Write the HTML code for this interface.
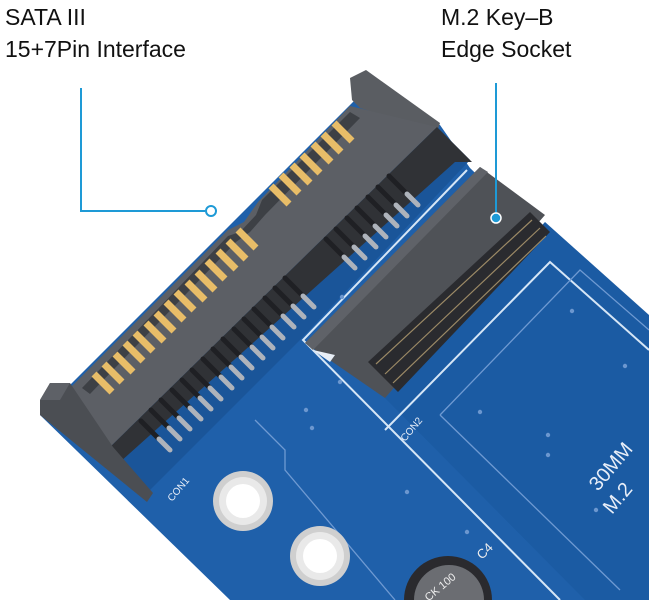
<!DOCTYPE html>
<html><head><meta charset="utf-8"><style>
html,body{margin:0;padding:0;background:#fff;width:649px;height:600px;overflow:hidden}
svg{display:block;overflow:hidden}
text{font-family:"Liberation Sans",sans-serif;fill:#111}
</style></head><body>
<svg width="649" height="600" viewBox="0 0 649 600" xmlns="http://www.w3.org/2000/svg">
<rect width="649" height="600" fill="#fff"/>
<!-- PCB -->
<polygon points="40,415 230,600 649,600 649,331 545,240 470,168 440,125 360,95" fill="#1f60aa"/>
<polygon points="385,398 545,222 649,315 649,600 585,600" fill="#1b5ba3"/>
<polygon points="110,455 440,130 470,160 300,340 150,490" fill="#1a5599"/>
<g stroke="#d6e6f6" stroke-width="2" fill="none">
<polyline points="467,170 303,340 560,600"/>
<polyline points="385,430 550,262 649,350"/>
</g>
<g stroke="#6f9ad2" stroke-width="1.3" fill="none">
<polyline points="255,420 285,450 285,470 395,600"/>
<polyline points="440,415 580,270 649,330"/>
<polyline points="440,415 620,590"/>
</g>
<!-- vias -->
<g fill="#6c97cf">
<circle cx="340" cy="382" r="2.2"/><circle cx="312" cy="428" r="2.2"/><circle cx="262" cy="481" r="2.2"/>
<circle cx="407" cy="492" r="2.2"/><circle cx="467" cy="532" r="2.2"/><circle cx="480" cy="412" r="2.2"/>
<circle cx="548" cy="455" r="2.2"/><circle cx="572" cy="311" r="2.2"/><circle cx="625" cy="366" r="2.2"/>
<circle cx="596" cy="510" r="2.2"/><circle cx="342" cy="297" r="2.2"/><circle cx="433" cy="276" r="2.2"/>
<circle cx="306" cy="410" r="2.2"/><circle cx="548" cy="435" r="2.2"/>
</g>
<!-- SATA top cap -->
<polygon points="350,78 366,70 440,123 437,132 360,108 352,100" fill="#5a5d62"/>
<!-- tongue & face -->
<polygon points="70,388 228,230 244,222 258,202 350,106 437,127 107,450 100,445" fill="#5c5f65"/>
<polygon points="82,388 228,236 240,232 256,215 262,200 350,112 360,118 265,215 250,232 236,242 90,394" fill="#3d4045"/>
<!-- shadow / dark strip -->
<polygon points="107,450 437,127 472,162 455,162 120,462" fill="#303236"/>
<!-- left cap -->
<polygon points="40,400 50,383 70,383 113,447 153,493 147,502 40,415" fill="#4b4e53"/>
<polygon points="40,400 50,383 70,383 60,400" fill="#5e6167"/>
<!-- gold pins -->
<g stroke="#e8bd68" stroke-width="7">
<line x1="94" y1="374" x2="112" y2="392"/><line x1="104" y1="364" x2="122" y2="382"/>
<line x1="115" y1="354" x2="133" y2="372"/><line x1="125" y1="343" x2="143" y2="361"/>
<line x1="135" y1="333" x2="153" y2="351"/><line x1="146" y1="323" x2="164" y2="341"/>
<line x1="156" y1="313" x2="174" y2="331"/><line x1="166" y1="302" x2="184" y2="320"/>
<line x1="176" y1="292" x2="194" y2="310"/><line x1="187" y1="282" x2="205" y2="300"/>
<line x1="197" y1="272" x2="215" y2="290"/><line x1="207" y1="261" x2="225" y2="279"/>
<line x1="218" y1="251" x2="236" y2="269"/><line x1="228" y1="241" x2="246" y2="259"/>
<line x1="238" y1="230" x2="256" y2="248"/>
<line x1="271" y1="186" x2="289" y2="204"/><line x1="281" y1="175" x2="299" y2="193"/>
<line x1="292" y1="165" x2="310" y2="183"/><line x1="302" y1="155" x2="320" y2="173"/>
<line x1="313" y1="144" x2="331" y2="162"/><line x1="323" y1="134" x2="341" y2="152"/>
<line x1="334" y1="123" x2="352" y2="141"/>
</g>
<!-- solder legs -->
<g stroke-width="5" stroke-linecap="round">
<g stroke="#1f2024">
<line x1="141" y1="421" x2="159" y2="439"/><line x1="151" y1="410" x2="169" y2="428"/>
<line x1="161" y1="400" x2="179" y2="418"/><line x1="172" y1="390" x2="190" y2="408"/>
<line x1="182" y1="380" x2="200" y2="398"/><line x1="192" y1="370" x2="210" y2="388"/>
<line x1="203" y1="359" x2="221" y2="377"/><line x1="213" y1="349" x2="231" y2="367"/>
<line x1="223" y1="339" x2="241" y2="357"/><line x1="234" y1="329" x2="252" y2="347"/>
<line x1="244" y1="319" x2="262" y2="337"/><line x1="254" y1="309" x2="272" y2="327"/>
<line x1="265" y1="298" x2="283" y2="316"/><line x1="275" y1="288" x2="293" y2="306"/>
<line x1="285" y1="278" x2="303" y2="296"/>
<line x1="326" y1="239" x2="344" y2="257"/><line x1="336" y1="229" x2="354" y2="247"/>
<line x1="347" y1="218" x2="365" y2="236"/><line x1="357" y1="208" x2="375" y2="226"/>
<line x1="368" y1="197" x2="386" y2="215"/><line x1="378" y1="187" x2="396" y2="205"/>
<line x1="389" y1="176" x2="407" y2="194"/>
</g>
<g stroke="#aeb3bb">
<line x1="159" y1="439" x2="170" y2="450"/><line x1="169" y1="428" x2="180" y2="439"/>
<line x1="179" y1="418" x2="190" y2="429"/><line x1="190" y1="408" x2="201" y2="419"/>
<line x1="200" y1="398" x2="211" y2="409"/><line x1="210" y1="388" x2="221" y2="399"/>
<line x1="221" y1="377" x2="232" y2="388"/><line x1="231" y1="367" x2="242" y2="378"/>
<line x1="241" y1="357" x2="252" y2="368"/><line x1="252" y1="347" x2="263" y2="358"/>
<line x1="262" y1="337" x2="273" y2="348"/><line x1="272" y1="327" x2="283" y2="338"/>
<line x1="283" y1="316" x2="294" y2="327"/><line x1="293" y1="306" x2="304" y2="317"/>
<line x1="303" y1="296" x2="314" y2="307"/>
<line x1="344" y1="257" x2="355" y2="268"/><line x1="354" y1="247" x2="365" y2="258"/>
<line x1="365" y1="236" x2="376" y2="247"/><line x1="375" y1="226" x2="386" y2="237"/>
<line x1="386" y1="215" x2="397" y2="226"/><line x1="396" y1="205" x2="407" y2="216"/>
<line x1="407" y1="194" x2="418" y2="205"/>
</g>
</g>
<!-- M.2 socket -->
<polygon points="305,343 480,167 545,215 385,398" fill="#4f5257"/>
<polygon points="305,343 480,167 488,172 313,350" fill="#5f6268"/>
<polygon points="368,362 530,212 550,232 398,392" fill="#2a2b2f"/>
<g stroke="#9c8a66" stroke-width="1.2">
<line x1="376" y1="364" x2="532" y2="220"/><line x1="385" y1="374" x2="540" y2="228"/>
<line x1="393" y1="383" x2="546" y2="236"/>
</g>
<polygon points="313,350 335,355 330,362" fill="#e8eef6"/>
<!-- holes -->
<circle cx="243" cy="501" r="30" fill="#cfcfcf"/><circle cx="243" cy="501" r="24" fill="#e9e9e9"/><circle cx="243" cy="501" r="17" fill="#fff"/>
<circle cx="320" cy="556" r="30" fill="#cfcfcf"/><circle cx="320" cy="556" r="24" fill="#e9e9e9"/><circle cx="320" cy="556" r="17" fill="#fff"/>
<!-- capacitor (clipped to frame) -->
<path d="M404,600 A44,44 0 0 1 492,600 Z" fill="#2a2a2e"/>
<path d="M414,600 A35,35 0 0 1 484,600 Z" fill="#6b6d72"/>
<text x="425" y="592" font-size="11" style="fill:#eee" transform="rotate(-40 440 592)">CK 100</text>
<text x="482" y="560" font-size="13" style="fill:#eee" transform="rotate(-45 482 560)">C4</text>
<text x="598" y="492" font-size="20" style="fill:#e8eef8" transform="rotate(-50 598 492)">30MM</text>
<text x="612" y="515" font-size="20" style="fill:#e8eef8" transform="rotate(-50 612 515)">M.2</text>
<text x="172" y="502" font-size="10" style="fill:#e8eef8" transform="rotate(-50 172 502)">CON1</text>
<text x="405" y="442" font-size="10" style="fill:#e8eef8" transform="rotate(-50 405 442)">CON2</text>
<!-- callouts -->
<polyline points="81,88 81,211 205,211" stroke="#1e9ad6" stroke-width="2" fill="none"/>
<circle cx="211" cy="211" r="5" fill="#fff" stroke="#1e9ad6" stroke-width="2"/>
<line x1="496" y1="83" x2="496" y2="214" stroke="#1e9ad6" stroke-width="2"/>
<circle cx="496" cy="218" r="5" fill="#1e9ad6" stroke="#fff" stroke-width="1.5"/>
<!-- labels -->
<text x="5" y="25" font-size="23">SATA III</text>
<text x="5" y="57" font-size="23">15+7Pin Interface</text>
<text x="441" y="25" font-size="23">M.2 Key–B</text>
<text x="441" y="57" font-size="23">Edge Socket</text>
</svg>
</body></html>
